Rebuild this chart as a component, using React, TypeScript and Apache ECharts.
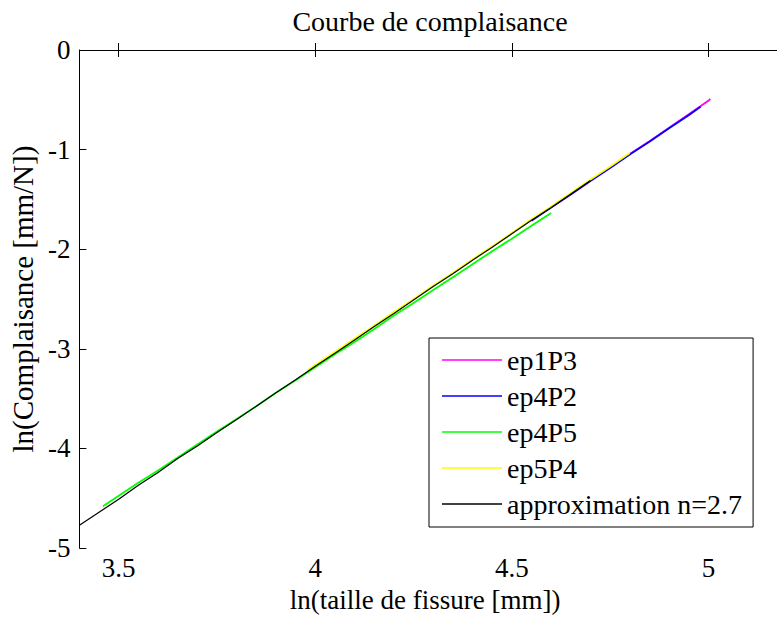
import React, { useEffect, useRef } from "react";
import * as echarts from "echarts";

const seriesNames = ["ep1P3", "ep4P2", "ep4P5", "ep5P4", "approximation n=2.7"];
const seriesColors = ["#ff00ff", "#0000ff", "#00ff00", "#ffff00", "#000000"];

const ep1P3: [number, number][] = [
  [4.6, -1.575], [4.65, -1.445], [4.7, -1.31], [4.75, -1.18], [4.8, -1.045],
  [4.85, -0.915], [4.9, -0.78], [4.95, -0.645], [5.0, -0.51], [5.005, -0.49],
];
const ep4P2: [number, number][] = [
  [4.55, -1.715], [4.6, -1.58], [4.65, -1.45], [4.7, -1.315], [4.75, -1.185],
  [4.8, -1.05], [4.85, -0.92], [4.9, -0.785], [4.95, -0.655], [4.98, -0.57],
];
const ep4P5: [number, number][] = [
  [3.46, -4.58], [3.5, -4.475], [3.55, -4.345], [3.6, -4.22], [3.65, -4.09],
  [3.7, -3.96], [3.75, -3.83], [3.8, -3.705], [3.85, -3.575], [3.9, -3.44],
  [3.95, -3.315], [4.0, -3.185], [4.05, -3.055], [4.1, -2.93], [4.15, -2.8],
  [4.2, -2.665], [4.25, -2.54], [4.3, -2.41], [4.35, -2.28], [4.4, -2.15],
  [4.45, -2.02], [4.5, -1.895], [4.55, -1.765], [4.6, -1.635],
];
const ep5P4: [number, number][] = [
  [3.98, -3.215], [4.05, -3.03], [4.1, -2.895], [4.15, -2.765], [4.2, -2.63],
  [4.25, -2.5], [4.3, -2.365], [4.35, -2.235], [4.4, -2.1], [4.45, -1.97],
  [4.5, -1.835], [4.55, -1.7], [4.6, -1.57], [4.65, -1.435], [4.7, -1.3],
  [4.75, -1.17], [4.8, -1.035],
];
const approx: [number, number][] = [
  [3.4, -4.77], [3.45, -4.64], [3.5, -4.51], [3.55, -4.37], [3.6, -4.24],
  [3.65, -4.1], [3.7, -3.975], [3.75, -3.84], [3.8, -3.71], [3.85, -3.575],
  [3.9, -3.44], [3.95, -3.31], [4.0, -3.175], [4.05, -3.045], [4.1, -2.91],
  [4.15, -2.775], [4.2, -2.645], [4.25, -2.51], [4.3, -2.375], [4.35, -2.245],
  [4.4, -2.11], [4.45, -1.98], [4.5, -1.845], [4.55, -1.71], [4.6, -1.58],
  [4.65, -1.445], [4.7, -1.31],
];
const seriesData = [ep1P3, ep4P2, ep4P5, ep5P4, approx];
const seriesWidths = [1.8, 1.8, 1.8, 1.8, 1.2];

const xTicks = [3.5, 4, 4.5, 5];
const xMin = 3.4;
const xMax = 5.2;
const yMin = -5;
const yMax = 0;

const FONT = "'Liberation Serif', 'Times New Roman', serif";
const txt = (size: number) => ({
  fontFamily: FONT,
  fontSize: size,
  fontWeight: "normal",
  fontStyle: "normal",
  color: "#000",
});

export default function App() {
  const ref = useRef<HTMLDivElement>(null);
  useEffect(() => {
    if (!ref.current) return;
    const chart = echarts.init(ref.current, undefined, { renderer: "svg" });
    const axisLine = { show: true, lineStyle: { color: "#000", width: 1 } };
    chart.setOption({
      animation: false,
      backgroundColor: "#fff",
      textStyle: txt(27),
      title: {
        text: "Courbe de complaisance",
        left: 425,
        textAlign: "center",
        top: 2,
        textStyle: txt(28),
      },
      grid: { left: 79, top: 50, width: 708, height: 501, containLabel: false },
      legend: {
        orient: "vertical",
        left: 429,
        top: 338,
        padding: [8, 11, 9, 13],
        icon: "rect",
        itemWidth: 60,
        itemHeight: 1.5,
        itemGap: 8,
        backgroundColor: "#fff",
        borderColor: "#000",
        borderWidth: 1,
        textStyle: { ...txt(28), lineHeight: 28 },
        data: seriesNames,
      },
      xAxis: [
        {
          type: "value",
          min: xMin,
          max: xMax,
          position: "bottom",
          name: "ln(taille de fissure [mm])",
          nameLocation: "middle",
          nameGap: 27,
          nameTextStyle: { ...txt(27), padding: [0, 16, 0, 0] },
          axisLine,
          splitLine: { show: false },
          axisTick: { show: true, inside: true, length: 7, customValues: xTicks, lineStyle: { color: "#000" } },
          axisLabel: {
            show: true,
            customValues: xTicks,
            margin: 6,
            ...txt(27),
            formatter: (v: number) => String(v),
          },
        },
        {
          type: "value",
          min: xMin,
          max: xMax,
          position: "top",
          axisLine,
          splitLine: { show: false },
          axisTick: { show: true, inside: true, length: 7, customValues: xTicks, lineStyle: { color: "#000" } },
          axisLabel: { show: false },
        },
      ],
      yAxis: [
        {
          type: "value",
          min: yMin,
          max: yMax,
          interval: 1,
          position: "left",
          name: "ln(Complaisance [mm/N])",
          nameLocation: "middle",
          nameGap: 41,
          nameTextStyle: txt(29),
          axisLine,
          splitLine: { show: false },
          axisTick: { show: true, inside: true, length: 7, lineStyle: { color: "#000" } },
          axisLabel: { margin: 9, ...txt(27) },
        },
        {
          type: "value",
          min: yMin,
          max: yMax,
          interval: 1,
          position: "right",
          axisLine,
          splitLine: { show: false },
          axisTick: { show: true, inside: true, length: 7, lineStyle: { color: "#000" } },
          axisLabel: { show: false },
        },
      ],
      series: seriesNames.map((name, i) => ({
        name,
        type: "line",
        data: seriesData[i],
        xAxisIndex: 0,
        yAxisIndex: 0,
        symbol: "none",
        showSymbol: false,
        color: seriesColors[i],
        lineStyle: { color: seriesColors[i], width: seriesWidths[i] },
        z: 2 + i,
      })),
    });
    return () => chart.dispose();
  }, []);
  return (
    <div style={{ position: "fixed", left: 0, top: 0, width: 777, height: 618, overflow: "hidden", background: "#fff" }}>
      <div ref={ref} style={{ width: 800, height: 618 }} />
    </div>
  );
}
